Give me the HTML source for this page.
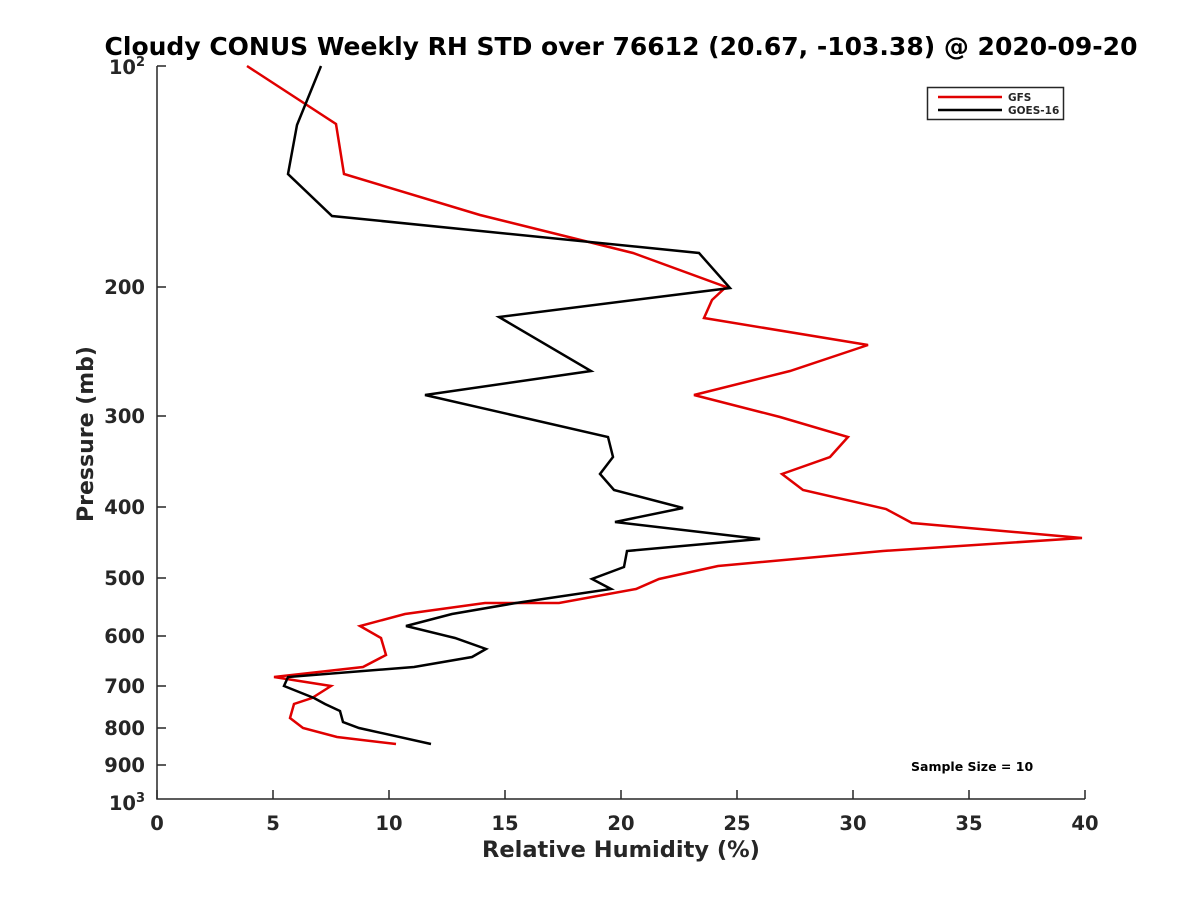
<!DOCTYPE html>
<html><head><meta charset="utf-8"><style>body{margin:0;background:#fff}svg text{font-family:"DejaVu Sans","Liberation Sans",sans-serif;font-weight:bold;fill:#262626}</style></head>
<body><svg width="1200" height="900" xmlns="http://www.w3.org/2000/svg">
<rect width="1200" height="900" fill="#fff"/>
<text x="621" y="55" font-size="25" text-anchor="middle" style="fill:#000">Cloudy CONUS Weekly RH STD over 76612 (20.67, -103.38) @ 2020-09-20</text>
<g stroke="#262626" stroke-width="1.5" fill="none">
<path d="M157,66V799H1085"/>
<path d="M157,66h9M157,287h9M157,416h9M157,507h9M157,578h9M157,636h9M157,686h9M157,728h9M157,765h9"/>
<path d="M157,799v-9M273,799v-9M389,799v-9M505,799v-9M621,799v-9M737,799v-9M853,799v-9M969,799v-9M1085,799v-9"/>
</g>
<g font-size="19.5" text-anchor="end">
<text x="145" y="74">10<tspan font-size="13" dy="-8">2</tspan></text>
<text x="145" y="294">200</text><text x="145" y="423">300</text><text x="145" y="514">400</text>
<text x="145" y="585">500</text><text x="145" y="643">600</text><text x="145" y="693">700</text>
<text x="145" y="735">800</text><text x="145" y="772">900</text>
<text x="145" y="810">10<tspan font-size="13" dy="-8">3</tspan></text>
</g>
<g font-size="19.5" text-anchor="middle">
<text x="157" y="830">0</text><text x="273" y="830">5</text><text x="389" y="830">10</text><text x="505" y="830">15</text><text x="621" y="830">20</text><text x="737" y="830">25</text><text x="853" y="830">30</text><text x="969" y="830">35</text><text x="1085" y="830">40</text>
</g>
<text x="621" y="857" font-size="22.5" text-anchor="middle">Relative Humidity (%)</text>
<text transform="translate(93,434) rotate(-90)" font-size="22" text-anchor="middle">Pressure (mb)</text>
<polyline fill="none" stroke="#e00000" stroke-width="2.5" points="247,66 336,124 344,174 480,215 633,253 726,287 712,300 704,318 868,345 790,371 694,395 780,417 848,437 830,457 782,474 803,490 886,509 912,523 1082,538 883,551 718,566 659,579 636,589 559,603 485,603 405,614 360,626 381,638 386,655 363,667 274,677 331,686 312,698 294,704 290,718 303,728 337,737 396,744"/>
<polyline fill="none" stroke="#000" stroke-width="2.5" points="321,66 297,125 288,174 332,216 699,253 730,288 499,317 591,371 425,395 608,437 613,457 600,474 614,490 683,508 615,522 760,539 627,551 624,567 592,579 611,589 516,603 452,614 406,626 455,638 486,649 472,657 414,667 288,677 284,686 314,698 325,704 340,711 343,722 359,728 431,744"/>
<rect x="927.5" y="87.5" width="136" height="32" fill="#fff" stroke="#262626" stroke-width="1.5"/>
<line x1="938" y1="97" x2="1002" y2="97" stroke="#e00000" stroke-width="2.5"/>
<line x1="938" y1="110" x2="1002" y2="110" stroke="#000" stroke-width="2.5"/>
<text x="1008" y="101" font-size="10.5">GFS</text>
<text x="1008" y="114" font-size="10.5">GOES-16</text>
<text x="911" y="771" font-size="12.5" style="fill:#000">Sample Size = 10</text>
</svg></body></html>
